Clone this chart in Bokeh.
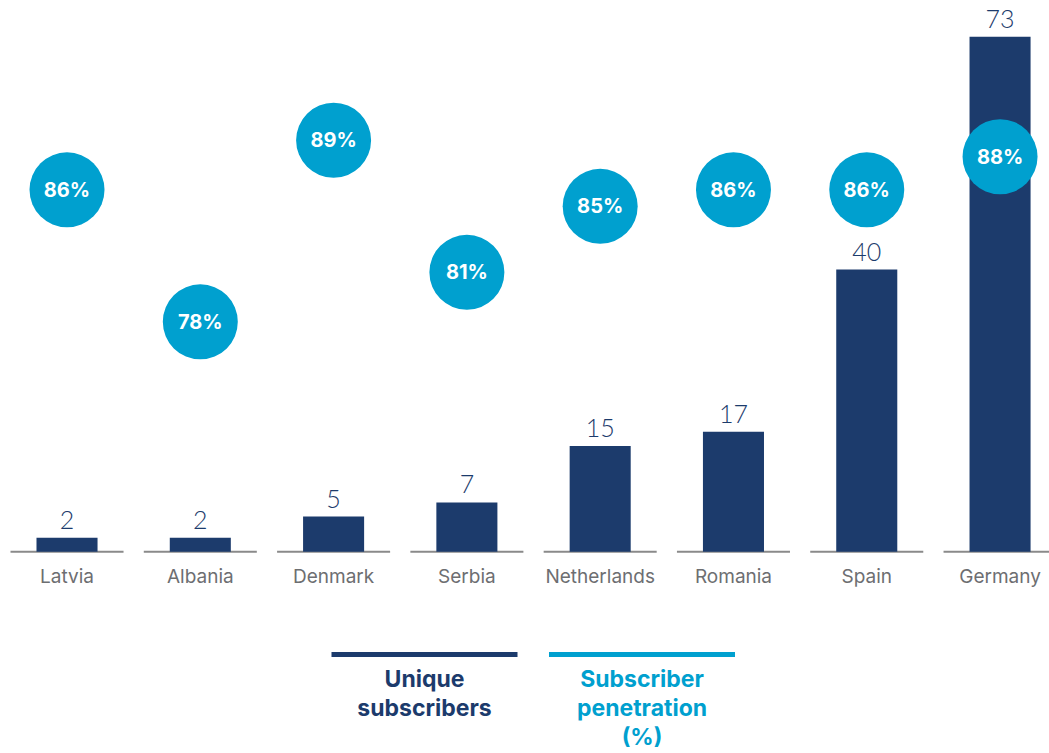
from bokeh.plotting import figure
from bokeh.models import Range1d, FixedTicker, ColumnDataSource
from bokeh.layouts import column
from bokeh.core.properties import value
from bokeh.embed import file_html
from bokeh.resources import INLINE

# ---- data ----
categories = ["Latvia", "Albania", "Denmark", "Serbia", "Netherlands", "Romania", "Spain", "Germany"]
subscribers = [2, 2, 5, 7, 15, 17, 40, 73]          # unique subscribers
penetration = [86, 78, 89, 81, 85, 86, 86, 88]      # subscriber penetration (%)
legend_names = [["Unique", "subscribers"], ["Subscriber", "penetration", "(%)"]]

NAVY = "#1c3b6c"
CYAN = "#00a0cf"
GRAY_LINE = "#8a8a8a"
GRAY_TEXT = "#6d6e71"
FONT = "Inter"

idx = list(range(len(categories)))
src = ColumnDataSource(dict(
    x=idx,
    sub=subscribers,
    sub_label=[str(v) for v in subscribers],
    pen=penetration,
    pen_label=[f"{v}%" for v in penetration],
    zero=[0] * len(idx),
))

p = figure(width=1049, height=606,
           x_range=Range1d(-0.499, 7.371), y_range=Range1d(-0.383, 78.14),
           output_backend="svg", toolbar_location=None,
           min_border_left=0, min_border_right=0, min_border_top=0, min_border_bottom=52,
           y_axis_location=None, outline_line_color=None)
p.extra_y_ranges = {"pen": Range1d(63.91, 97.465)}
p.grid.visible = False

# baseline pieces per category
p.rect(x="x", y="zero", width=0.848, height=2, height_units="screen", source=src,
       fill_color=GRAY_LINE, line_color=None)

p.vbar(x="x", top="sub", bottom=0, width=0.458, source=src, fill_color=NAVY, line_color=None)
p.text(x="x", y="sub", text="sub_label", source=src, text_align="center",
       text_baseline="middle", y_offset=-18, text_color=NAVY,
       text_font=value("Lato Light"), text_font_size="25px")

p.scatter(x="x", y="pen", y_range_name="pen", size=75, source=src,
          fill_color=CYAN, line_color=None)
p.text(x="x", y="pen", y_range_name="pen", text="pen_label", source=src,
       text_align="center", text_baseline="middle", text_color="white",
       text_font=value(FONT), text_font_style="bold", text_font_size="20px")

ax = p.xaxis[0]
ax.ticker = FixedTicker(ticks=idx)
ax.major_label_overrides = {i: c for i, c in enumerate(categories)}
ax.axis_line_color = None
ax.major_tick_line_color = None
ax.minor_tick_line_color = None
ax.major_label_standoff = 4
ax.major_label_text_font = FONT
ax.major_label_text_font_size = "19px"
ax.major_label_text_color = GRAY_TEXT

# ---- legend panel ----
lg = figure(width=1049, height=147, x_range=Range1d(0, 1049), y_range=Range1d(147, 0),
            output_backend="svg", toolbar_location=None, min_border=0,
            x_axis_location=None, y_axis_location=None, outline_line_color=None)
lg.grid.visible = False
centers = [424, 641.5]
colors = [NAVY, CYAN]
for c, col, lines in zip(centers, colors, legend_names):
    lg.segment(x0=[c - 93], x1=[c + 93], y0=[48], y1=[48], line_color=col, line_width=5)
    lg.text(x=[c] * len(lines), y=[72.5 + 29 * k for k in range(len(lines))], text=lines,
            text_align="center", text_baseline="middle", text_color=col,
            text_font=value(FONT), text_font_style="bold", text_font_size="23px")

layout = column(p, lg, spacing=0)
open("out.html", "w").write(file_html(layout, INLINE))
